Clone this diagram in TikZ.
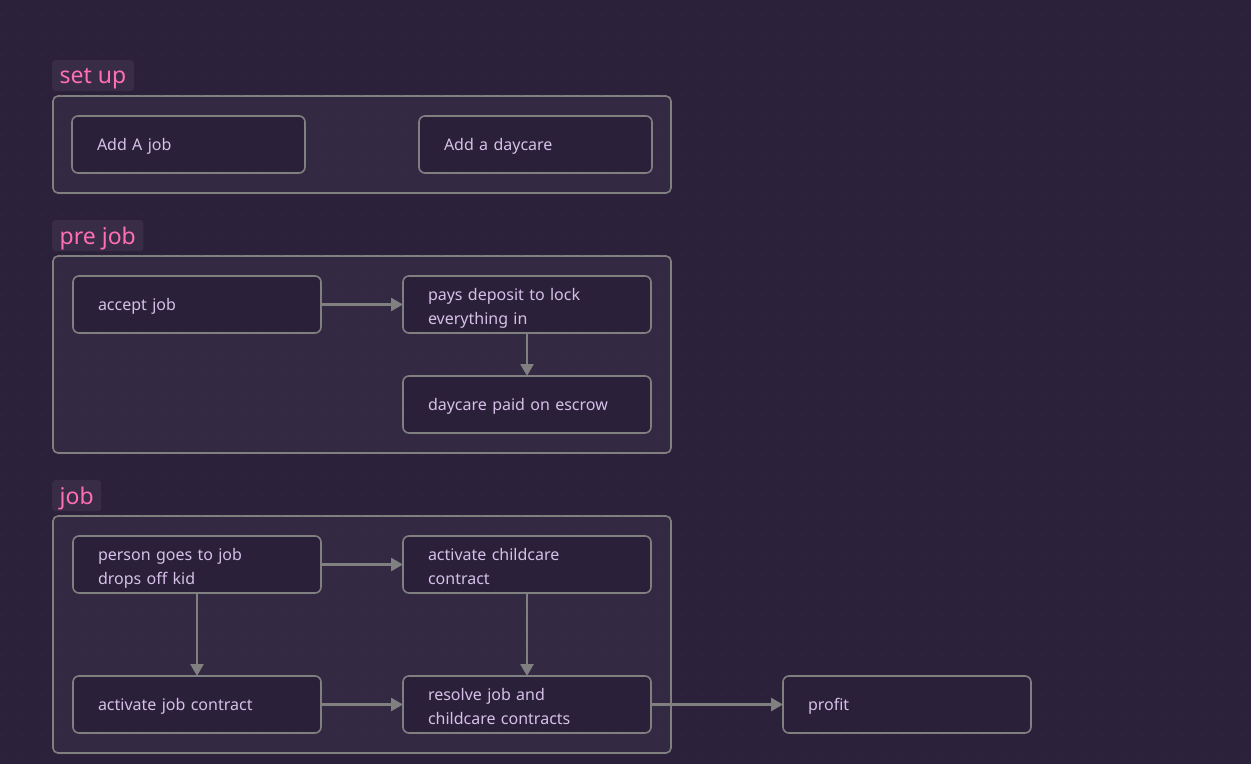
\documentclass[tikz,border=0pt]{standalone}
\usepackage{fontspec}
\setmainfont{Noto Sans}
\usetikzlibrary{arrows.meta}
\definecolor{bgc}{RGB}{44,33,59}
\definecolor{grpfill}{RGB}{52,41,66}
\definecolor{nodefill}{RGB}{43,32,58}
\definecolor{edgec}{RGB}{128,128,128}
\definecolor{txtc}{RGB}{214,192,232}
\definecolor{titlec}{RGB}{255,110,182}
\definecolor{titlebg}{RGB}{56,44,70}
\definecolor{dotc}{RGB}{62,52,78}
\tikzset{
  grp/.style={draw=edgec, line width=1.6pt, rounded corners=5pt, fill=grpfill},
  grptitle/.style={anchor=north west, fill=titlebg, rounded corners=3pt,
    text=titlec, font=\fontsize{23}{27}\selectfont, inner xsep=7.5pt,
    minimum height=31pt, text depth=0pt},
  stepbox/.style={anchor=north west, draw=edgec, line width=1.6pt, fill=nodefill,
    rounded corners=6pt, text=txtc, font=\fontsize{16}{24}\selectfont,
    align=left, text width=198pt, inner xsep=25pt, minimum height=57pt,
    outer sep=0pt, text depth=-4pt},
  twoline/.style={stepbox, text depth=19.5pt},
  smallbox/.style={stepbox, text width=183pt},
  flow/.style={draw=edgec, line width=2.6pt,
    -{Triangle[length=12pt, width=13pt]}},
}
\begin{document}
\begin{tikzpicture}[x=1pt, y=-1pt]
  \fill[bgc] (0,0) rectangle (1251,764);
  \useasboundingbox (0,0) rectangle (1251,764);

  % group panels
  \draw[grp] (53,96) rectangle (671,193);
  \draw[grp] (53,256) rectangle (671,453);
  \draw[grp] (53,516) rectangle (671,753);

  % dotted grid
  \foreach \gx in {2,22,...,1251} {
    \foreach \gy in {15,35,...,764} {
      \fill[dotc] (\gx,\gy) circle (0.7pt);
    }
  }

  % group titles
  \node[grptitle] (tsetup) at (52,60) {set up};
  \node[grptitle] (tprejob) at (52,220) {pre job};
  \node[grptitle] (tjob) at (52,480) {job};

  % set up
  \node[smallbox] (addjob) at (72,116) {Add A job};
  \node[smallbox] (adddaycare) at (419,116) {Add a daycare};

  % pre job
  \node[stepbox] (accept) at (73,276) {accept job};
  \node[twoline] (deposit) at (403,276) {pays deposit to lock\\everything in};
  \node[stepbox] (escrow) at (403,376) {daycare paid on escrow};

  % job
  \node[twoline] (goes) at (73,536) {person goes to job\\drops off kid};
  \node[twoline] (childcare) at (403,536) {activate childcare\\contract};
  \node[stepbox] (jobcontract) at (73,676) {activate job contract};
  \node[twoline] (resolve) at (403,676) {resolve job and\\childcare contracts};
  \node[stepbox] (profit) at (783,676) {profit};

  % connectors
  \draw[flow] (accept) -- (deposit);
  \draw[flow] (deposit) -- (escrow);
  \draw[flow] (goes) -- (childcare);
  \draw[flow] (goes) -- (jobcontract);
  \draw[flow] (childcare) -- (resolve);
  \draw[flow] (jobcontract) -- (resolve);
  \draw[flow] (resolve) -- (profit);
\end{tikzpicture}
\end{document}
